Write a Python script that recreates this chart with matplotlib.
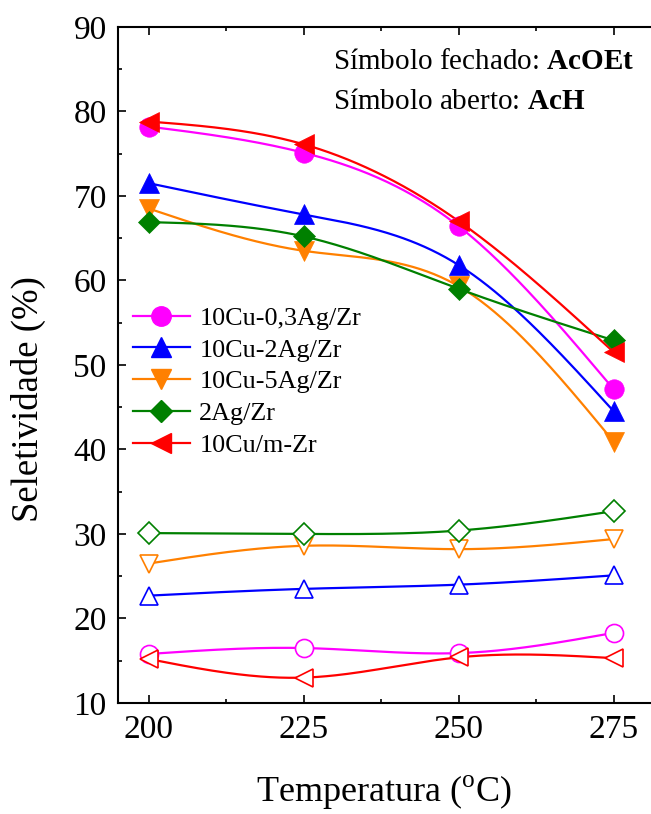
import numpy as np
import matplotlib
matplotlib.use("Agg")
import matplotlib.pyplot as plt

temps = [200, 225, 250, 275]
labels = ["10Cu-0,3Ag/Zr", "10Cu-2Ag/Zr", "10Cu-5Ag/Zr", "2Ag/Zr", "10Cu/m-Zr"]
colors = ["#FF00FF", "#0000FF", "#FF8000", "#008000", "#FF0000"]
markers = ["o", "^", "v", "D", "<"]

# AcOEt (filled symbols)
acoet_03ag = [78.2, 75.1, 66.4, 47.1]
acoet_2ag = [71.5, 67.8, 61.8, 44.5]
acoet_5ag = [68.5, 63.5, 59.3, 40.9]
acoet_ag = [66.9, 65.2, 59.0, 52.9]
acoet_cu = [78.8, 76.1, 67.0, 51.5]

# AcH (open symbols)
ach_03ag = [15.8, 16.5, 15.9, 18.3]
ach_2ag = [22.7, 23.5, 24.0, 25.1]
ach_5ag = [26.5, 28.6, 28.2, 29.4]
ach_ag = [30.1, 30.0, 30.4, 32.7]
ach_cu = [15.2, 13.0, 15.4, 15.3]

acoet = [acoet_03ag, acoet_2ag, acoet_5ag, acoet_ag, acoet_cu]
ach = [ach_03ag, ach_2ag, ach_5ag, ach_ag, ach_cu]


def spline(x, y, n=200):
    # natural cubic spline, only for drawing the connecting curve
    x = np.asarray(x, float)
    y = np.asarray(y, float)
    k = len(x)
    h = np.diff(x)
    A = np.zeros((k, k))
    b = np.zeros(k)
    A[0, 0] = A[-1, -1] = 1
    for i in range(1, k - 1):
        A[i, i - 1] = h[i - 1]
        A[i, i] = 2 * (h[i - 1] + h[i])
        A[i, i + 1] = h[i]
        b[i] = 6 * ((y[i + 1] - y[i]) / h[i] - (y[i] - y[i - 1]) / h[i - 1])
    m = np.linalg.solve(A, b)
    xs = np.linspace(x[0], x[-1], n)
    idx = np.clip(np.searchsorted(x, xs) - 1, 0, k - 2)
    t = xs - x[idx]
    hi = h[idx]
    a = (m[idx + 1] - m[idx]) / (6 * hi)
    bb = m[idx] / 2
    c = (y[idx + 1] - y[idx]) / hi - hi * (2 * m[idx] + m[idx + 1]) / 6
    ys = y[idx] + c * t + bb * t ** 2 + a * t ** 3
    return xs, ys


plt.rcParams['font.family'] = ['Liberation Serif', 'DejaVu Serif']
plt.rcParams['mathtext.fontset'] = 'custom'
plt.rcParams['mathtext.rm'] = 'Liberation Serif'
plt.rcParams['mathtext.bf'] = 'Liberation Serif:bold'

fig = plt.figure(figsize=(6.51, 8.14), dpi=100)
ax = fig.add_axes([0.181, 0.1364, 0.819, 0.8306])

for vals, col, mk, lab in zip(ach, colors, markers, labels):
    xs, ys = spline(temps, vals)
    ax.plot(xs, ys, color=col, lw=1.6, zorder=2)
    ax.plot(temps, vals, ls='none', marker=mk, ms=13 if mk != 'D' else 11,
            mfc='white', mec=col, mew=1.2, zorder=3)

for vals, col, mk, lab in zip(acoet, colors, markers, labels):
    xs, ys = spline(temps, vals)
    ax.plot(xs, ys, color=col, lw=1.6, zorder=2)
    ax.plot(temps, vals, ls='none', marker=mk, ms=14 if mk != 'D' else 11,
            mfc=col, mec=col, mew=0.5, zorder=3)
    ax.plot([], [], color=col, lw=1.6, marker=mk,
            ms=14 if mk != 'D' else 11, mfc=col, mec=col, label=lab)

ax.set_xlim(195, 281)
ax.set_ylim(10, 90)
ax.set_xticks(temps)
ax.set_xticks([212.5, 237.5, 262.5], minor=True)
ax.set_yticks(range(10, 91, 10))
ax.set_yticks(range(15, 90, 10), minor=True)
ax.tick_params(which='both', direction='in', top=True, right=False, width=1.2,
               labelsize=24)
ax.tick_params(which='major', length=6, pad=8)
ax.tick_params(which='minor', length=3)
for s in ['left', 'bottom', 'top']:
    ax.spines[s].set_linewidth(1.5)
ax.spines['right'].set_visible(False)

ax.set_xlabel(r'Temperatura ($^{\mathrm{o}}$C)', fontsize=26)
ax.xaxis.set_label_coords(0.5, -0.104)
ax.set_ylabel('Seletividade (%)', fontsize=26.5)
ax.yaxis.set_label_coords(-0.134, 0.45)

ax.text(0.403, 0.948, r'Símbolo fechado: $\mathbf{AcOEt}$', transform=ax.transAxes,
        ha='left', va='center', fontsize=21)
ax.text(0.403, 0.889, r'Símbolo aberto: $\mathbf{AcH}$', transform=ax.transAxes,
        ha='left', va='center', fontsize=21)

ax.legend(loc='center left', bbox_to_anchor=(0.028, 0.475), frameon=False,
          fontsize=18.8, borderpad=0, borderaxespad=0, labelspacing=0.33,
          handlelength=2.2, handletextpad=0.35)

fig.savefig('out.png', dpi=100)
